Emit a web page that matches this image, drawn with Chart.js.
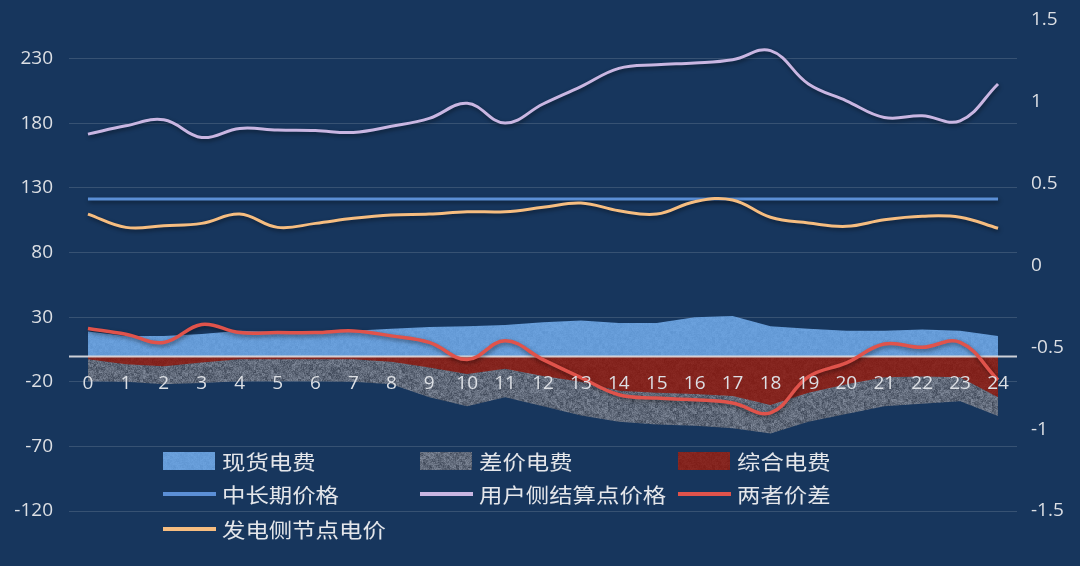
<!DOCTYPE html>
<html>
<head>
<meta charset="utf-8">
<script src="https://cdn.jsdelivr.net/npm/chart.js@4.4.1/dist/chart.umd.min.js"></script>
<style>
html,body{margin:0;padding:0;background:#17365d;}
#wrap{width:1080px;height:566px;position:relative;overflow:hidden;}
canvas{display:block;}
</style>
</head>
<body>
<div id="wrap"><canvas id="c" width="1080" height="566"></canvas></div>
<script>
// ---------------- data ----------------
const categories = ['0','1','2','3','4','5','6','7','8','9','10','11','12','13','14','15','16','17','18','19','20','21','22','23','24'];
const spotFee   = [19,15.5,15.5,17,19.5,18.5,18.5,19.5,21,22.5,23,24,26,27.5,25.5,25.5,30,31,23,21,19.5,19.5,20.5,19.5,15.5];
const diffFee   = [-19.5,-20,-22,-21,-19.5,-19.5,-19.5,-20,-22,-32,-39,-32,-39,-46,-51,-53,-54,-56,-60,-51,-45,-39,-37,-35,-46.5];
const totalFee  = [-2.5,-6.5,-8,-5,-2.5,-2.5,-2.5,-2.5,-4.5,-9,-14,-10,-15.5,-20,-27,-28.5,-29.5,-31,-38,-28.5,-22,-16.5,-16,-16.5,-32];
const midLongPrice = [121.5,121.5,121.5,121.5,121.5,121.5,121.5,121.5,121.5,121.5,121.5,121.5,121.5,121.5,121.5,121.5,121.5,121.5,121.5,121.5,121.5,121.5,121.5,121.5,121.5];
const userPrice = [171.7,178.1,182.8,169.1,176.1,174.8,174.4,173.0,177.7,183.9,195.5,180.2,195,208.5,222.6,225.4,226.7,229.3,236.3,210.5,197.5,184.6,185.9,182,210.5];
const genPrice  = [109.8,99.5,100.8,102.6,109.8,99.5,102.6,106.5,109.1,109.8,111.6,111.6,115,118.4,112.4,109.8,119.4,120.7,107.3,102.9,100.3,105.4,108.1,107.3,98.8];
const priceDiff = [-0.385,-0.42,-0.47,-0.36,-0.41,-0.41,-0.41,-0.40,-0.43,-0.47,-0.575,-0.46,-0.575,-0.685,-0.79,-0.81,-0.82,-0.84,-0.90,-0.68,-0.595,-0.48,-0.50,-0.47,-0.70];
const leftTicks  = [-120,-70,-20,30,80,130,180,230];
const rightTicks = [-1.5,-1,-0.5,0,0.5,1,1.5];
const rightTickLabels = ['-1.5','-1','-0.5','0','0.5','1','1.5'];
const seriesNames = ['现货电费','差价电费','综合电费','中长期价格','用户侧结算点价格','两者价差','发电侧节点电价'];

// ---------------- styles ----------------
const canvas = document.getElementById('c');
const ctx = canvas.getContext('2d');

function noisePattern(r, g, b, amp) {
  const s = 128;
  const c = document.createElement('canvas');
  c.width = s; c.height = s;
  const gx = c.getContext('2d');
  const img = gx.createImageData(s, s);
  for (let y = 0; y < s; y++) {
    for (let x = 0; x < s; x++) {
      const h1 = Math.sin(x * 12.9898 + y * 78.233) * 43758.5453;
      const f1 = h1 - Math.floor(h1);
      const h2 = Math.sin(Math.floor(x / 3) * 7.13 + Math.floor(y / 3) * 3.71) * 9631.77;
      const f2 = h2 - Math.floor(h2);
      const v = (f1 * 0.55 + f2 * 0.45 - 0.5) * amp;
      const i = (y * s + x) * 4;
      img.data[i] = Math.max(0, Math.min(255, r + v));
      img.data[i + 1] = Math.max(0, Math.min(255, g + v));
      img.data[i + 2] = Math.max(0, Math.min(255, b + v));
      img.data[i + 3] = 255;
    }
  }
  gx.putImageData(img, 0, 0);
  return ctx.createPattern(c, 'repeat');
}

const grayPat = noisePattern(96, 105, 121, 70);
const bluePat = noisePattern(102, 156, 216, 14);
const redPat  = noisePattern(132, 36, 30, 14);

const COL_MIDLONG = '#5b8fd6';
const COL_USER = '#c9b6e2';
const COL_DIFF = '#e0534b';
const COL_GEN = '#f6bd80';

const lineShadow = {
  id: 'lineShadow',
  beforeDatasetDraw(chart, args) {
    const ds = chart.data.datasets[args.index];
    if (ds._shadow) {
      chart.ctx.save();
      chart.ctx.shadowColor = 'rgba(0,0,0,0.45)';
      chart.ctx.shadowBlur = 4;
      chart.ctx.shadowOffsetX = 1;
      chart.ctx.shadowOffsetY = 2;
    }
  },
  afterDatasetDraw(chart, args) {
    const ds = chart.data.datasets[args.index];
    if (ds._shadow) chart.ctx.restore();
    if (ds._zeroLineAfter) {
      const c = chart.ctx, a = chart.chartArea;
      const y0 = Math.round(chart.scales.y.getPixelForValue(0)) + 0.5;
      c.save();
      c.strokeStyle = 'rgba(225,225,228,0.9)';
      c.lineWidth = 2;
      c.beginPath();
      c.moveTo(a.left, y0);
      c.lineTo(a.right, y0);
      c.stroke();
      c.restore();
    }
  }
};

const legendPlugin = {
  id: 'customLegend',
  afterDraw(chart) {
    const c = chart.ctx;
    const colX = [163, 420, 678];
    const rowY = [461, 494, 529];
    const items = chart.data.datasets;
    c.save();
    items.forEach((ds, i) => {
      const col = i % 3, row = Math.floor(i / 3);
      const x = colX[col], y = rowY[row];
      if (ds._legendType === 'box') {
        c.fillStyle = ds.backgroundColor;
        c.fillRect(x, y - 9, 52, 18);
      } else {
        c.strokeStyle = ds.borderColor;
        c.lineWidth = 4;
        c.beginPath();
        c.moveTo(x, y);
        c.lineTo(x + 53, y);
        c.stroke();
      }
      c.save();
      c.translate(x + 59, y);
      c.scale(1.17, 1);
      c.fillStyle = '#e4e6ea';
      c.font = '20px "Noto Sans CJK SC"';
      c.textBaseline = 'middle';
      c.textAlign = 'left';
      c.fillText(ds.label, 0, 1);
      c.restore();
    });
    c.restore();
  }
};

const tickFont = {family: '"Open Sans", "DejaVu Sans", sans-serif', size: 19};
const tickColor = '#dcdfe4';

new Chart(ctx, {
  type: 'line',
  data: {
    labels: categories,
    datasets: [
      {label: seriesNames[0], data: spotFee, yAxisID: 'y', fill: 'origin', backgroundColor: bluePat, borderWidth: 0, pointRadius: 0, tension: 0, order: 8, _legendType: 'box', _zeroLineAfter: true},
      {label: seriesNames[1], data: diffFee, yAxisID: 'y', fill: 'origin', backgroundColor: grayPat, borderWidth: 0, pointRadius: 0, tension: 0, order: 10, _legendType: 'box'},
      {label: seriesNames[2], data: totalFee, yAxisID: 'y', fill: 'origin', backgroundColor: redPat, borderWidth: 0, pointRadius: 0, tension: 0, order: 9, _legendType: 'box'},
      {label: seriesNames[3], data: midLongPrice, yAxisID: 'y', fill: false, borderColor: COL_MIDLONG, borderWidth: 3, pointRadius: 0, tension: 0, order: 4, _shadow: true},
      {label: seriesNames[4], data: userPrice, yAxisID: 'y', fill: false, borderColor: COL_USER, borderWidth: 3, pointRadius: 0, tension: 0.4, order: 3, _shadow: true},
      {label: seriesNames[5], data: priceDiff, yAxisID: 'y1', fill: false, borderColor: COL_DIFF, borderWidth: 3.5, pointRadius: 0, tension: 0.4, order: 1, _shadow: true},
      {label: seriesNames[6], data: genPrice, yAxisID: 'y', fill: false, borderColor: COL_GEN, borderWidth: 3, pointRadius: 0, tension: 0.4, order: 2, _shadow: true}
    ]
  },
  options: {
    responsive: false,
    animation: false,
    layout: {padding: {top: 20, bottom: 55, left: 0, right: 0}},
    plugins: {legend: {display: false}, tooltip: {enabled: false}},
    scales: {
      x: {
        type: 'category',
        offset: true,
        position: {y: 0},
        grid: {display: false, drawTicks: false},
        border: {display: false},
        ticks: {color: tickColor, font: tickFont, padding: 16, maxRotation: 0, autoSkip: false, z: 1}
      },
      y: {
        position: 'left',
        min: -120,
        max: 260,
        afterBuildTicks(scale) { scale.ticks = leftTicks.map(v => ({value: v})); },
        afterFit(scale) { scale.width = 69; },
        grid: {color: 'rgba(255,255,255,0.14)', lineWidth: 1, drawTicks: true, tickLength: 16, tickColor: 'rgba(0,0,0,0)'},
        border: {display: false},
        ticks: {color: tickColor, font: tickFont, padding: 0}
      },
      y1: {
        position: 'right',
        min: -1.5,
        max: 1.5,
        afterBuildTicks(scale) { scale.ticks = rightTicks.map(v => ({value: v})); },
        afterFit(scale) { scale.width = 63; },
        grid: {display: true, drawOnChartArea: false, color: 'rgba(0,0,0,0)', drawTicks: true, tickLength: 14, tickColor: 'rgba(0,0,0,0)'},
        border: {display: false},
        ticks: {color: tickColor, font: tickFont, padding: 0,
          callback(v, i) { return rightTickLabels[i]; }}
      }
    }
  },
  plugins: [lineShadow, legendPlugin]
});
</script>
</body>
</html>
